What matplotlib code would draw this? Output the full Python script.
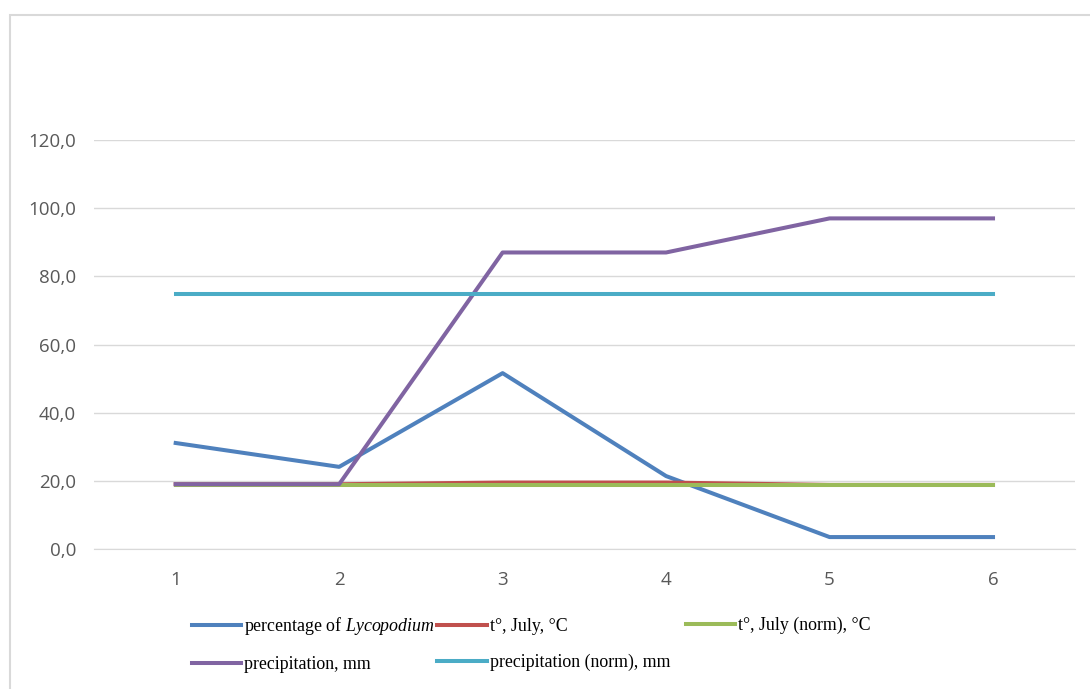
import matplotlib.pyplot as plt
from matplotlib.patches import Rectangle
from matplotlib.ticker import FuncFormatter

# data
samples = [1, 2, 3, 4, 5, 6]
lycopodium = [31.1, 24.1, 51.6, 21.4, 3.5, 3.5]
t_july = [19.0, 19.0, 19.5, 19.5, 18.8, 18.8]
t_july_norm = [18.7, 18.7, 18.7, 18.7, 18.7, 18.7]
precip = [19.0, 19.0, 87.0, 87.0, 97.0, 97.0]
precip_norm = [74.8, 74.8, 74.8, 74.8, 74.8, 74.8]
y_ticks = [0, 20, 40, 60, 80, 100, 120]

plt.rcParams['mathtext.fontset'] = 'custom'
plt.rcParams['mathtext.it'] = 'Liberation Serif:italic'
plt.rcParams['mathtext.rm'] = 'Liberation Serif'

fig = plt.figure(figsize=(10.9, 6.89), dpi=100)
ax = fig.add_axes([0.0862, 0.2032, 0.8998, 0.5936])

# outer chart border (Excel-style frame)
fig.patches.append(Rectangle((10 / 1090, -0.1), 1.2, 1 - 15 / 689 + 0.1,
                             transform=fig.transFigure, fill=False,
                             edgecolor='#d9d9d9', linewidth=1.5))

lw = 2.9
h_lyco, = ax.plot(samples, lycopodium, color='#4f81bd', lw=lw)
h_t, = ax.plot(samples, t_july, color='#c0504d', lw=lw)
h_tn, = ax.plot(samples, t_july_norm, color='#9bbb59', lw=lw)
h_p, = ax.plot(samples, precip, color='#8064a2', lw=lw)
h_pn, = ax.plot(samples, precip_norm, color='#4bacc6', lw=lw)

ax.set_xlim(0.5, 6.5)
ax.set_ylim(0, 120)
ax.set_xticks(samples)
ax.set_yticks(y_ticks)
ax.yaxis.set_major_formatter(FuncFormatter(lambda v, p: f"{v:.1f}".replace('.', ',')))
ax.grid(axis='y', color='#d9d9d9', linewidth=1)
ax.set_axisbelow(True)
for s in ['top', 'right', 'left']:
    ax.spines[s].set_visible(False)
ax.spines['bottom'].set_color('#d9d9d9')
ax.tick_params(length=0, labelsize=13.5, labelcolor='#595959')
ax.tick_params(axis='y', pad=13)
ax.tick_params(axis='x', pad=16)
for lab in ax.get_xticklabels() + ax.get_yticklabels():
    lab.set_fontfamily('Open Sans')

# legend: Excel spaces the columns evenly, so the third column is its own legend
leg_kw = dict(loc='upper left', frameon=False, borderpad=0, borderaxespad=0,
              prop={'family': 'Liberation Serif', 'size': 12.9},
              handlelength=2.75, handletextpad=0.17, labelspacing=1.05)
leg1 = fig.legend([h_lyco, h_p, h_t, h_pn],
                  ['percentage of $\\mathit{Lycopodium}$', 'precipitation, mm',
                   't°, July, °C', 'precipitation (norm), mm'],
                  ncol=2, columnspacing=0.12,
                  bbox_to_anchor=(192 / 1090, 1 - 615 / 689), **leg_kw)
leg2 = fig.legend([h_tn], ['t°, July (norm), °C'],
                  bbox_to_anchor=(686 / 1090, 1 - 617 / 689), **leg_kw)

fig.savefig('out.png', dpi=100)
